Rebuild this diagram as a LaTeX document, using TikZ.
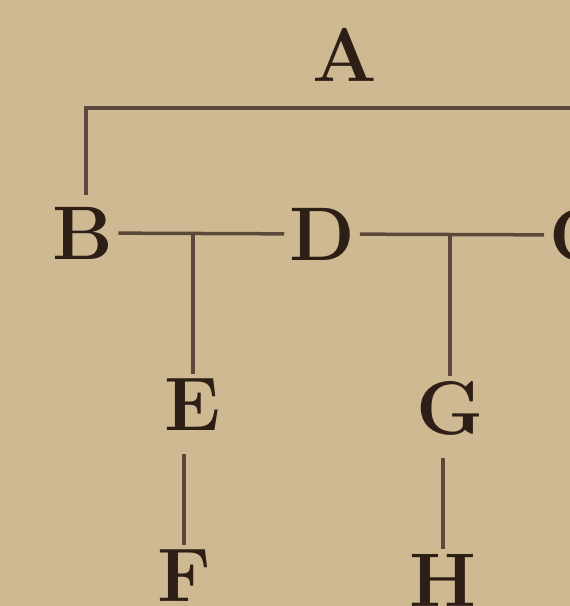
\documentclass[tikz,border=0pt]{standalone}
\usepackage{tikz}
\usetikzlibrary{calc}
\definecolor{paper}{HTML}{CFB993}
\definecolor{ink}{HTML}{2E1F16}
\definecolor{rule}{HTML}{5C4838}

\begin{document}
\begin{tikzpicture}[x=1pt, y=-1pt,
  person/.style={inner sep=0pt, outer sep=5pt, text=ink, font=\fontsize{76}{80}\selectfont\bfseries},
  link/.style={draw=rule, line width=3.5pt}
]
  % Paper and frame
  \fill[paper] (0,0) rectangle (570,606);
  \clip (0,0) rectangle (570,606);

  % Generations
  \node[person] (A) at (345,55) {A};
  \node[person] (B) at (83,233) {B};
  \node[person] (D) at (322,234) {D};
  \node[person] (C) at (580,235) {C};
  \node[person] (E) at (193,405) {E};
  \node[person] (F) at (184,576) {F};
  \node[person] (G) at (450,408) {G};
  \node[person] (H) at (443,580) {H};

  % Marriage bar and lines of descent
  \coordinate (top) at (345,108);
  \draw[link] ([xshift=3pt,yshift=7pt]B.north) |- (top) -| (C.north);
  \draw[link] (B) -- (D);
  \draw[link] (D) -- (C);
  \draw[link] (E.north) -- (E.north |- B.east);
  \draw[link] (G.north) -- (G.north |- D.east);
  \draw[link] ([yshift=-18pt]E.south -| F.north) -- (F.north);
  \draw[link] ([yshift=-18pt]G.south -| H.north) -- (H.north);
\end{tikzpicture}
\end{document}
